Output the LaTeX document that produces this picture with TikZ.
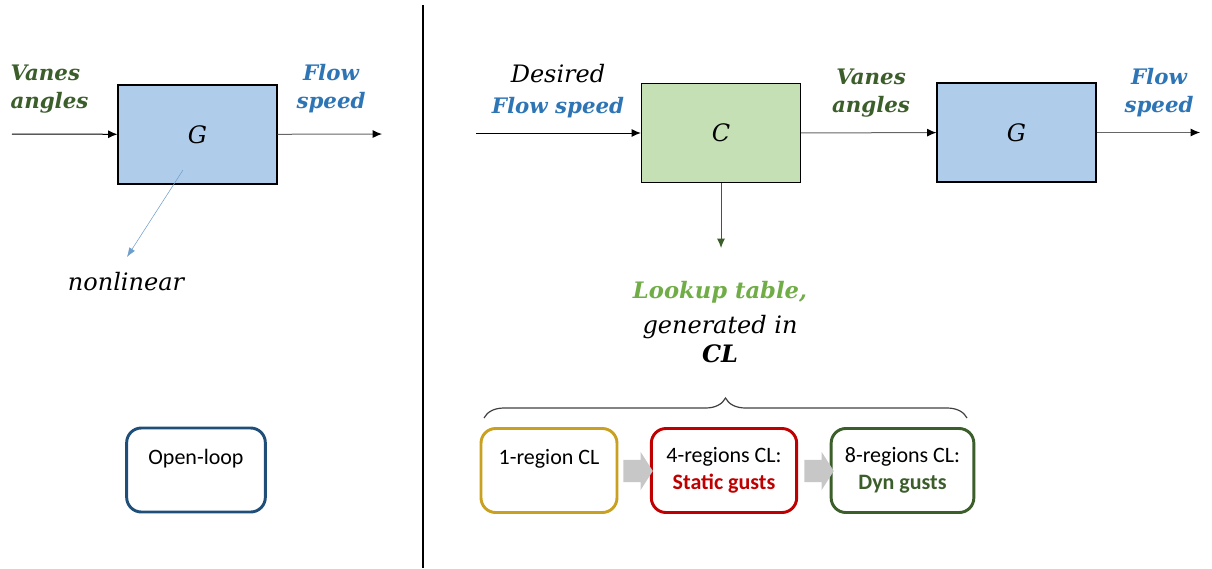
\documentclass[tikz,border=0pt]{standalone}
\usepackage{fontspec}
\setmainfont{Carlito}
\newfontfamily\mathfont{DejaVu Serif}
\usepackage{tikz}
\usetikzlibrary{arrows.meta,positioning,shapes.arrows,decorations.pathreplacing}

\definecolor{vanegreen}{HTML}{3B5E2B}
\definecolor{flowblue}{HTML}{2E75B6}
\definecolor{lookgreen}{HTML}{70AD47}
\definecolor{plantblue}{HTML}{AFCDEA}
\definecolor{ctrlgreen}{HTML}{C5E0B4}
\definecolor{goldline}{HTML}{C9A020}
\definecolor{redline}{HTML}{C00000}
\definecolor{navyline}{HTML}{1F4E79}

\begin{document}
\begin{tikzpicture}[x=0.75pt, y=-0.75pt, >={Latex[length=7pt,width=6pt,color=black]}, line width=0.75pt,
  block/.style={draw, line width=1.1pt, minimum width=119pt, minimum height=74pt, inner sep=0pt,
                font=\mathfont\itshape\fontsize{18}{21}\selectfont},
  signal/.style={align=center, inner sep=0pt, font=\mathfont\itshape\bfseries\fontsize{16}{21}\selectfont},
  note/.style={align=center, inner sep=0pt, font=\mathfont\itshape\fontsize{18}{22}\selectfont},
  stage/.style={draw, rounded corners=11pt, line width=2.2pt, minimum height=63pt, inner sep=0pt,
                align=center, font=\fontsize{16.5}{20}\selectfont},
  nextarrow/.style={single arrow, fill=black!22, draw=none, minimum height=16pt, inner sep=8pt,
                    single arrow head extend=6pt, single arrow tip angle=115}]

  \useasboundingbox (0,0) rectangle (1212,568);

  % open loop
  \node[block, fill=plantblue] (gol) at (197.5,134.5) {G};
  \coordinate (uol) at (12,134);
  \coordinate (yol) at (382,134);
  \node[signal, text=vanegreen, align=left, anchor=west] (vanesol) at (10,89) {Vanes\\angles};
  \node[signal, text=flowblue] (flowol) at (331,89) {Flow\\speed};
  \coordinate (nltail) at (183,170);
  \coordinate (nlhead) at (127,257);
  \node[note] (nonlin) at (126,282) {nonlinear};
  \node[stage, draw=navyline, minimum width=104pt] (openloop) at (196,470) {Open-loop\\\mbox{}};

  \path[->] (uol) edge (gol)
            (gol) edge [black!60] (yol);
  \draw[-{Latex[length=7pt,width=5pt]}, flowblue!70, line width=0.4pt] (nltail) -- (nlhead);

  % divider
  \draw[line width=0.8pt] (423,5) -- (423,568);

  % closed loop
  \node[block, fill=ctrlgreen] (ctrl) at (721,133) {C};
  \node[block, fill=plantblue] (gcl)  at (1016.5,132.5) {G};
  \coordinate (rcl) at (476,133);
  \coordinate (ycl) at (1200,132.5);
  \node[note] (desired) at (558,91) {Desired\\[1pt]{\bfseries\fontsize{16}{21}\selectfont\color{flowblue}Flow speed}};
  \node[signal, text=vanegreen] (vanescl) at (871,93) {Vanes\\angles};
  \node[signal, text=flowblue]  (flowcl)  at (1159,93) {Flow\\speed};
  \coordinate (lut) at (721,248);
  \node[note] (lookup) at (720,322) {{\bfseries\fontsize{17}{21}\selectfont\color{lookgreen}Lookup table,}\\[4pt]generated in\\{\bfseries CL}};

  \path[->] (rcl)  edge (ctrl)
            (ctrl) edge [black!60] (gcl)
            (gcl)  edge [black!60] (ycl)
            (ctrl) edge [vanegreen, {-Latex[length=7pt,width=6pt]}] (lut);

  % identification stages
  \node[stage, draw=goldline, minimum width=102pt] (reg1) at (549,470.5) {1-region CL\\\mbox{}};
  \node[stage, draw=redline,  minimum width=109pt] (reg4) at (724,470.5) {4-regions CL:\\{\bfseries\color{redline}Static gusts}};
  \node[stage, draw=vanegreen, minimum width=107pt] (reg8) at (902.5,470.5) {8-regions CL:\\{\bfseries\color{vanegreen}Dyn gusts}};
  \node[nextarrow] (step14) at (634.5,471) {};
  \node[nextarrow] (step48) at (815.5,471) {};

  \coordinate (bl) at (484,418);
  \coordinate (br) at (967,418);
  \draw[decorate, decoration={brace, amplitude=15pt}, line width=0.9pt, black!75] (bl) -- (br);

\end{tikzpicture}
\end{document}
